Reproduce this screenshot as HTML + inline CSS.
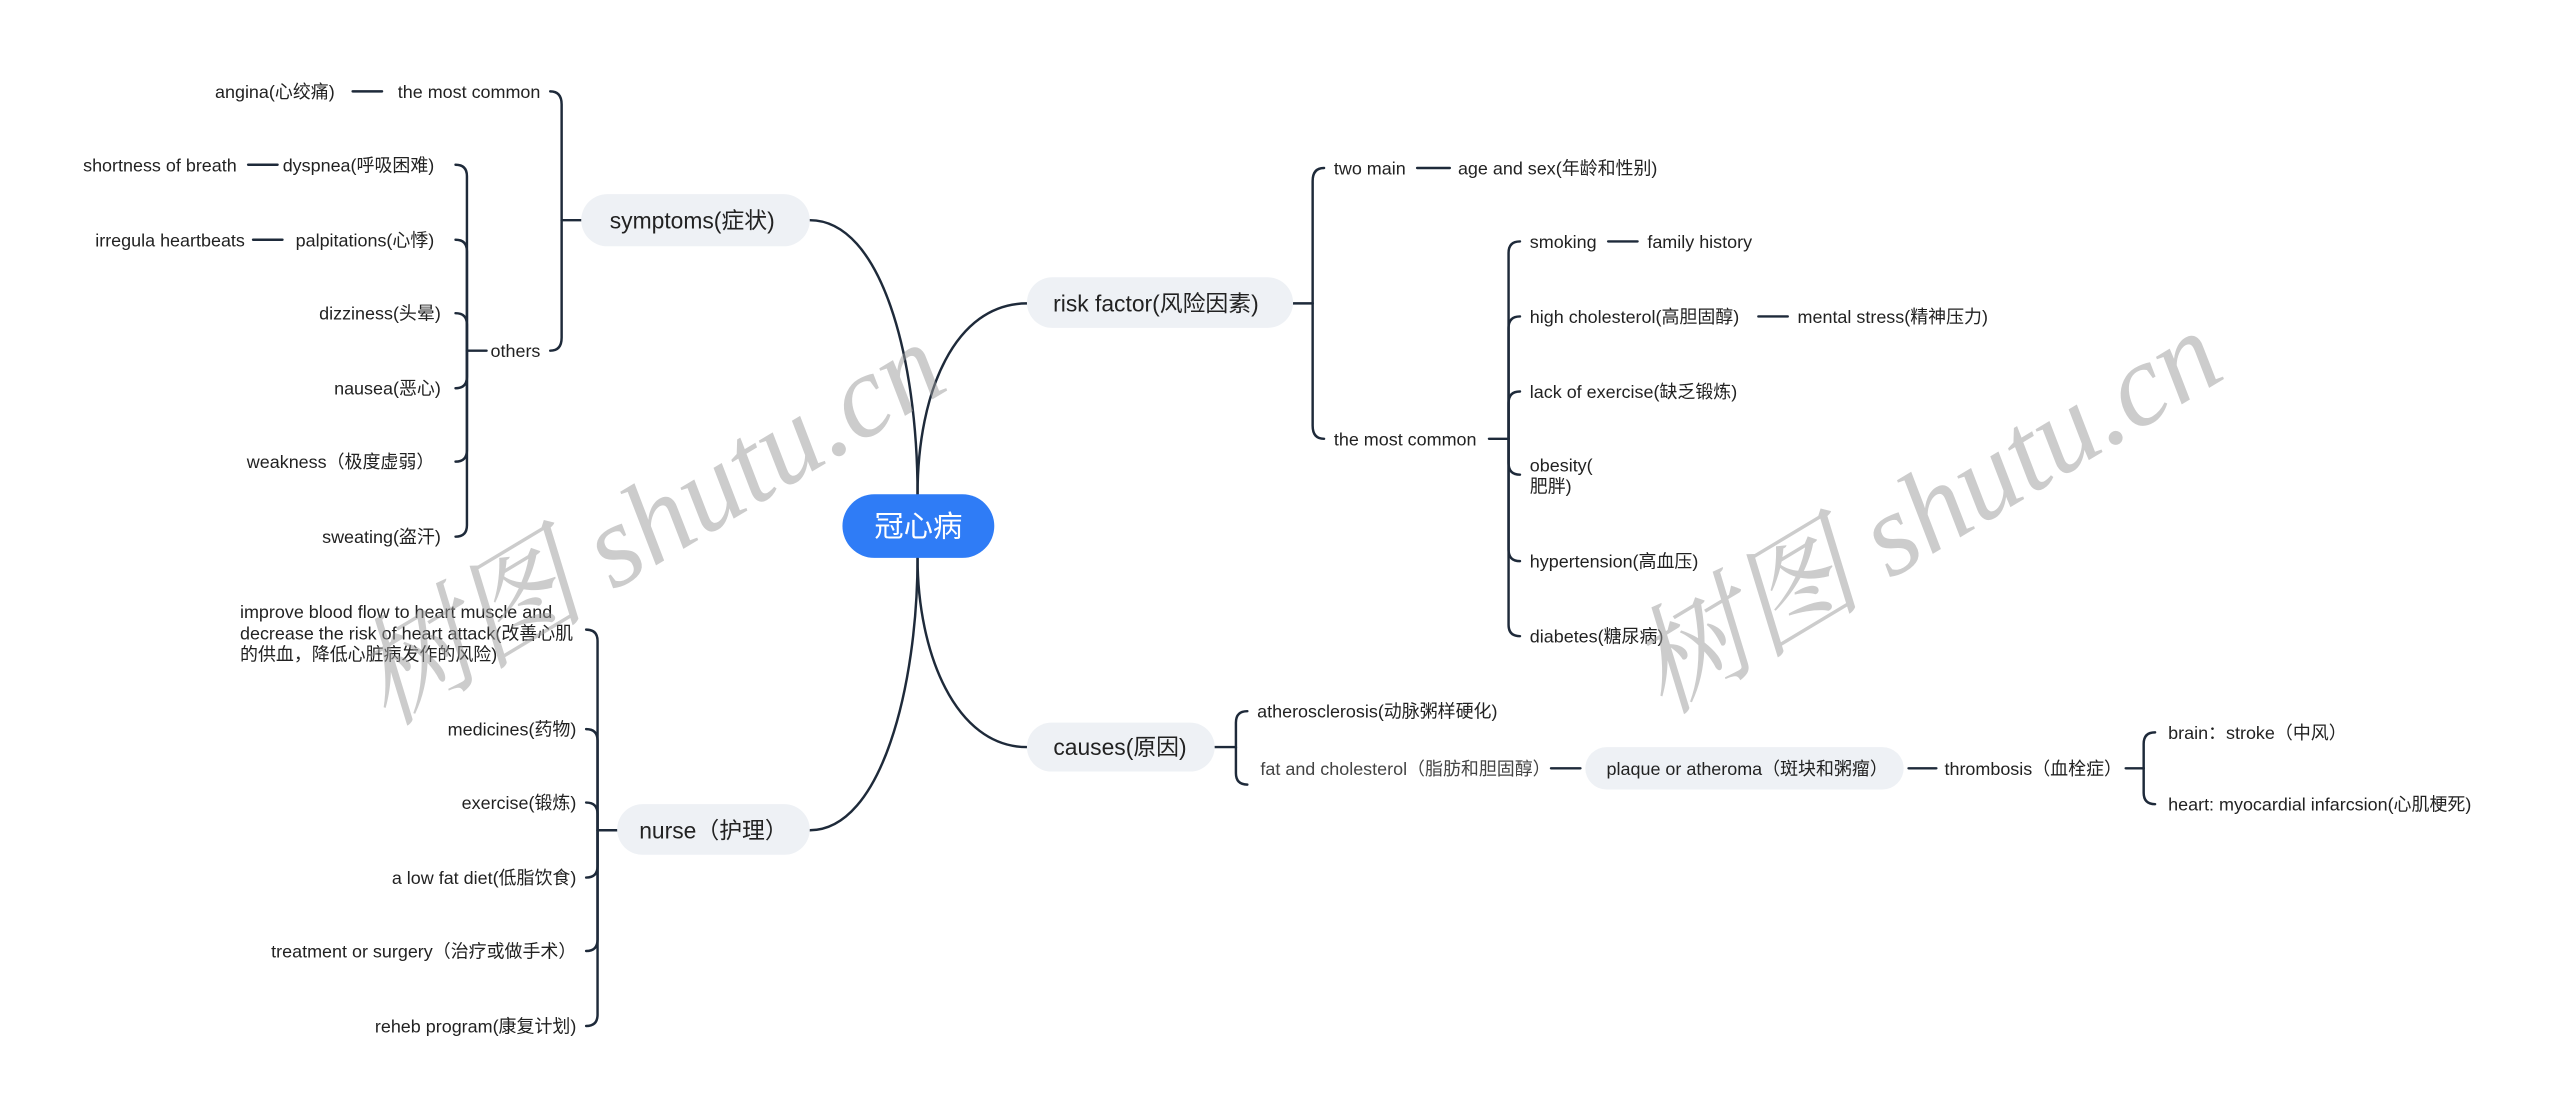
<!DOCTYPE html>
<html><head><meta charset="utf-8"><style>
html,body{margin:0;padding:0;background:#fff;}
svg{display:block;}
text{font-family:"Liberation Sans","Noto Sans CJK SC",sans-serif;fill:#222;}
.s{font-size:11px;}
.m{font-size:14px;}
</style></head><body>
<svg width="2560" height="1119" viewBox="0 0 1568 686" preserveAspectRatio="none" xmlns="http://www.w3.org/2000/svg">
<g fill="none" stroke="#1e2a3a" stroke-width="1.5" stroke-linecap="round">
<path d="M562,303 C562,220 540,135 496,135"/>
<path d="M562,303 C562,240 585,186 629,186"/>
<path d="M562,342 C562,400 585,458 629,458"/>
<path d="M562,342 C562,420 540,509 496,509"/>
<path d="M356,135 H344"/>
<path d="M344,135 V64 Q344,56 337,56"/>
<path d="M344,135 V207 Q344,215 337,215"/>
<path d="M216,56 H234"/>
<path d="M298,215 H286"/>
<path d="M286,215 V108 Q286,101 279,101"/>
<path d="M286,215 V154 Q286,147 279,147"/>
<path d="M286,215 V199 Q286,192 279,192"/>
<path d="M286,215 V231 Q286,238 279,238"/>
<path d="M286,215 V276 Q286,283 279,283"/>
<path d="M286,215 V322 Q286,329 279,329"/>
<path d="M152,101 H170"/>
<path d="M155,147 H173"/>
<path d="M792,186 H804"/>
<path d="M804,186 V111 Q804,103 811,103"/>
<path d="M804,186 V261 Q804,269 811,269"/>
<path d="M868,103 H888"/>
<path d="M912,269 H924"/>
<path d="M924,269 V155 Q924,148 931,148"/>
<path d="M924,269 V201 Q924,194 931,194"/>
<path d="M924,269 V247 Q924,240 931,240"/>
<path d="M924,269 V284 Q924,291 931,291"/>
<path d="M924,269 V337 Q924,344 931,344"/>
<path d="M924,269 V383 Q924,390 931,390"/>
<path d="M985,148 H1003"/>
<path d="M1077,194 H1095"/>
<path d="M744,458 H757"/>
<path d="M757,458 V443 Q757,436 764,436"/>
<path d="M757,458 V474 Q757,481 764,481"/>
<path d="M950,471 H968"/>
<path d="M1169,471 H1186"/>
<path d="M1302,471 H1313"/>
<path d="M1313,471 V456 Q1313,449 1320,449"/>
<path d="M1313,471 V486 Q1313,493 1320,493"/>
<path d="M378,509 H366"/>
<path d="M366,509 V393 Q366,386 359,386"/>
<path d="M366,509 V454 Q366,447 359,447"/>
<path d="M366,509 V499 Q366,492 359,492"/>
<path d="M366,509 V531 Q366,538 359,538"/>
<path d="M366,509 V576 Q366,583 359,583"/>
<path d="M366,509 V622 Q366,629 359,629"/>
</g>
<rect x="516" y="303" width="93" height="39" rx="19.5" fill="#2f7cf6"/>
<text x="562.5" y="329" font-size="18" text-anchor="middle" style="fill:#fff">冠心病</text>
<rect x="356" y="119" width="140" height="32" rx="16" fill="#eef1f5"/>
<text class="m" x="424" y="140" text-anchor="middle">symptoms(症状)</text>
<rect x="629" y="170" width="163" height="31" rx="15.5" fill="#eef1f5"/>
<text class="m" x="708" y="191" text-anchor="middle">risk factor(风险因素)</text>
<rect x="629" y="443" width="115" height="30" rx="15" fill="#eef1f5"/>
<text class="m" x="686" y="463" text-anchor="middle">causes(原因)</text>
<rect x="378" y="493" width="118" height="31" rx="15.5" fill="#eef1f5"/>
<text class="m" x="437" y="514" text-anchor="middle">nurse（护理）</text>
<rect x="971" y="458" width="195" height="26" rx="13" fill="#eef1f5"/>
<text class="s" x="984" y="475">plaque or atheroma（斑块和粥瘤）</text>
<g class="s">
<text x="331" y="60" text-anchor="end">the most common</text>
<text x="205" y="60" text-anchor="end">angina(心绞痛)</text>
<text x="331" y="219" text-anchor="end">others</text>
<text x="266" y="105" text-anchor="end">dyspnea(呼吸困难)</text>
<text x="266" y="151" text-anchor="end">palpitations(心悸)</text>
<text x="270" y="196" text-anchor="end">dizziness(头晕)</text>
<text x="270" y="242" text-anchor="end">nausea(恶心)</text>
<text x="266" y="287" text-anchor="end">weakness（极度虚弱）</text>
<text x="270" y="333" text-anchor="end">sweating(盗汗)</text>
<text x="145" y="105" text-anchor="end">shortness of breath</text>
<text x="150" y="151" text-anchor="end">irregula heartbeats</text>
<text x="817" y="107">two main</text>
<text x="893" y="107">age and sex(年龄和性别)</text>
<text x="817" y="273">the most common</text>
<text x="937" y="152">smoking</text>
<text x="1009" y="152">family history</text>
<text x="937" y="198">high cholesterol(高胆固醇)</text>
<text x="1101" y="198">mental stress(精神压力)</text>
<text x="937" y="244">lack of exercise(缺乏锻炼)</text>
<text x="937" y="289">obesity(</text>
<text x="937" y="302">肥胖)</text>
<text x="937" y="348">hypertension(高血压)</text>
<text x="937" y="394">diabetes(糖尿病)</text>
<text x="770" y="440">atherosclerosis(动脉粥样硬化)</text>
<text x="772" y="475" style="fill:#444">fat and cholesterol（脂肪和胆固醇）</text>
<text x="1191" y="475">thrombosis（血栓症）</text>
<text x="1328" y="453">brain：stroke（中风）</text>
<text x="1328" y="497">heart: myocardial infarcsion(心肌梗死)</text>
<text x="147" y="379">improve blood flow to heart muscle and</text>
<text x="147" y="392">decrease the risk of heart attack(改善心肌</text>
<text x="147" y="405">的供血，降低心脏病发作的风险)</text>
<text x="353" y="451" text-anchor="end">medicines(药物)</text>
<text x="353" y="496" text-anchor="end">exercise(锻炼)</text>
<text x="353" y="542" text-anchor="end">a low fat diet(低脂饮食)</text>
<text x="353" y="587" text-anchor="end">treatment or surgery（治疗或做手术）</text>
<text x="353" y="633" text-anchor="end">reheb program(康复计划)</text>
</g>
<g font-size="72" font-style="italic" fill-opacity="0.5">
<text x="398" y="345" text-anchor="middle" transform="rotate(-31 398 322)" style="fill:#999;font-family:'Liberation Serif','Noto Serif CJK SC',serif">树图 shutu.cn</text>
<text x="1180" y="338" text-anchor="middle" transform="rotate(-31 1180 315)" style="fill:#999;font-family:'Liberation Serif','Noto Serif CJK SC',serif">树图 shutu.cn</text>
</g>
</svg>
</body></html>
